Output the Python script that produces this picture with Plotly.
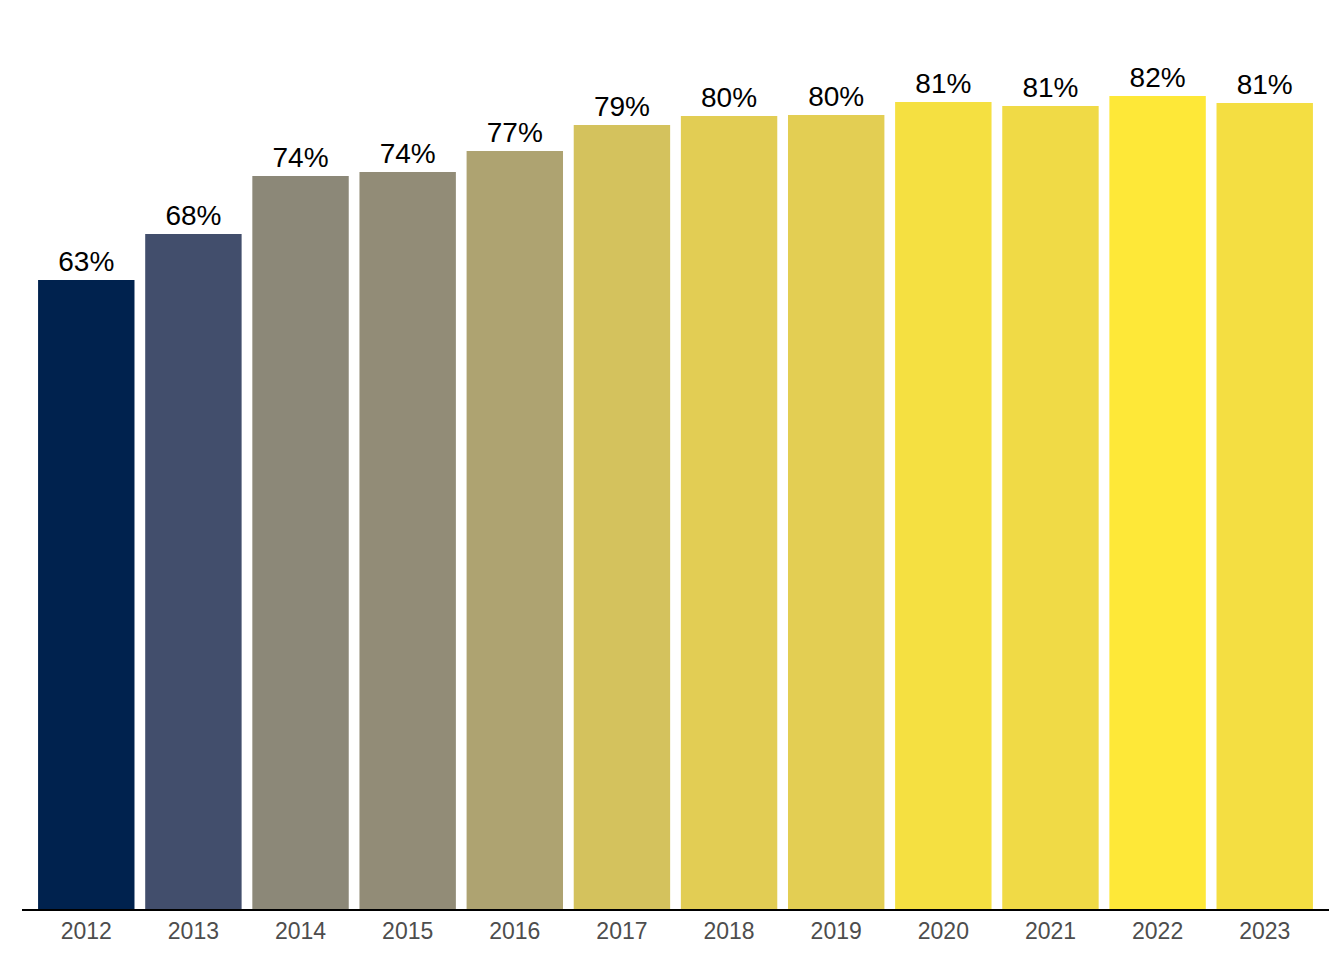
import plotly.graph_objects as go

years = ["2012", "2013", "2014", "2015", "2016", "2017", "2018", "2019", "2020", "2021", "2022", "2023"]
values = [62.9, 67.5, 73.3, 73.7, 75.8, 78.4, 79.3, 79.4, 80.7, 80.3, 81.3, 80.6]
labels = ["63%", "68%", "74%", "74%", "77%", "79%", "80%", "80%", "81%", "81%", "82%", "81%"]

fig = go.Figure(
    go.Bar(
        x=years,
        y=values,
        text=labels,
        textposition="outside",
        cliponaxis=False,
        textfont=dict(family="Liberation Sans, Arial, sans-serif", size=28, color="black"),
        marker=dict(
            color=values,
            colorscale="Cividis",
            cmin=min(values),
            cmax=max(values),
            line=dict(width=0),
        ),
        hoverinfo="skip",
    )
)

fig.update_layout(
    width=1344,
    height=960,
    margin=dict(l=14, r=23, t=12, b=59),
    plot_bgcolor="white",
    paper_bgcolor="white",
    bargap=0.1,
    showlegend=False,
    font=dict(family="Liberation Sans, Arial, sans-serif"),
)
fig.update_xaxes(
    type="category",
    range=[-0.6, 11.6],
    showline=True,
    linecolor="black",
    linewidth=2,
    ticks="",
    showgrid=False,
    tickfont=dict(size=23, color="#4d4d4d"),
)
fig.update_yaxes(
    range=[0, 88.9],
    visible=False,
    showgrid=False,
    zeroline=False,
)

fig.write_html("out.html")
